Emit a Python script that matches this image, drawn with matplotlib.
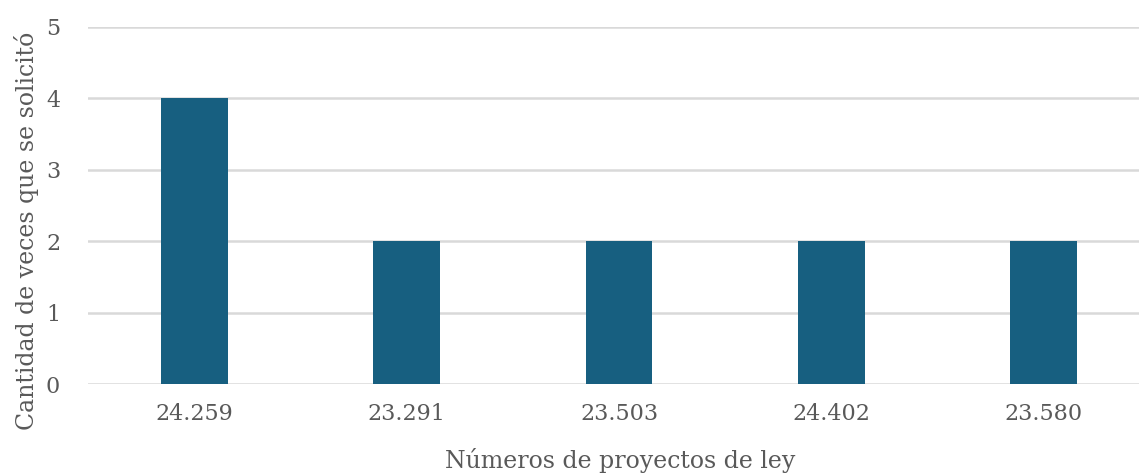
import matplotlib
matplotlib.use("Agg")
import matplotlib.pyplot as plt

proyectos = ["24.259", "23.291", "23.503", "24.402", "23.580"]
solicitudes = [4, 2, 2, 2, 2]
y_ticks = [0, 1, 2, 3, 4, 5]

bar_color = "#175f80"
text_color = "#595959"
grid_color = "#d9d9d9"

plt.rcParams["font.family"] = ["DejaVu Serif"]

W, H = 1139, 473
fig = plt.figure(figsize=(W / 100, H / 100), dpi=100)
ax = fig.add_axes([88 / W, (H - 384) / H, 1 - 88 / W, 357 / H])

x = range(len(proyectos))
ax.bar(x, solicitudes, width=0.315, color=bar_color, zorder=3)

ax.set_ylim(0, 5)
ax.set_xlim(-0.5, 4.448)
ax.set_yticks(y_ticks)
ax.set_xticks(list(x))
ax.set_xticklabels(proyectos)
ax.yaxis.grid(True, color=grid_color, linewidth=1.8, zorder=0)
ax.set_axisbelow(True)
for s in ax.spines.values():
    s.set_visible(False)
ax.tick_params(axis="both", length=0, labelsize=16, colors=text_color)
ax.tick_params(axis="x", pad=14)
ax.tick_params(axis="y", pad=20)

# axis titles placed in figure pixels
fig.text(620 / W, (H - 460) / H, "Números de proyectos de ley", fontsize=17,
         color=text_color, ha="center", va="center")
fig.text(27 / W, (H - 231) / H, "Cantidad de veces que se solicitó", fontsize=17,
         color=text_color, ha="center", va="center", rotation=90)

fig.savefig("out.png", dpi=100, facecolor="white")
